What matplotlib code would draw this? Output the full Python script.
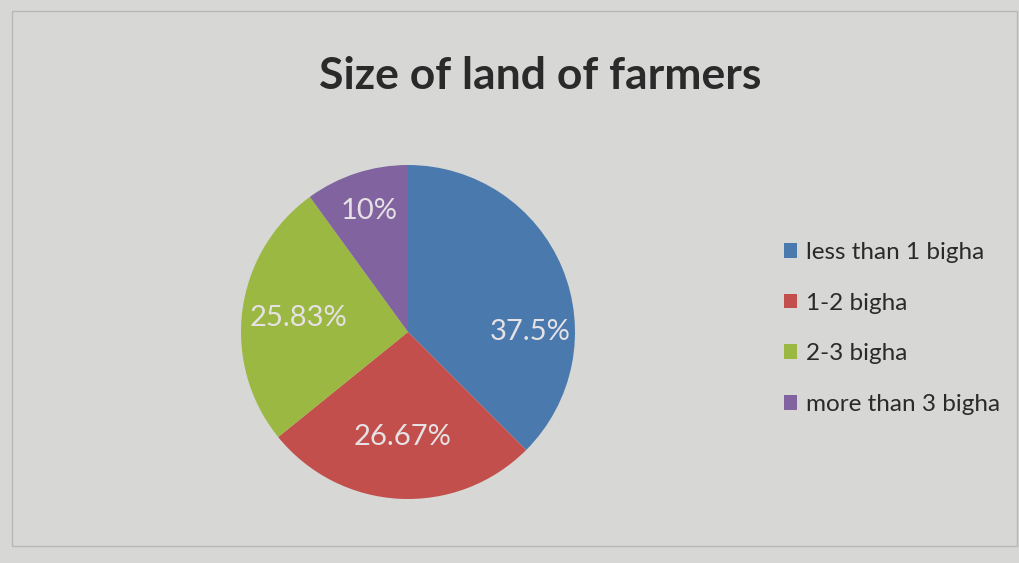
#!/usr/bin/env python3

import math
import matplotlib.pyplot as plt
import matplotlib.patches as mpatches

#-----------------------------------------------------------------------------#
# data

categories = ['less than 1 bigha', '1-2 bigha', '2-3 bigha', 'more than 3 bigha']
shares = [37.5, 26.67, 25.83, 10.0]
pct_labels = ['37.5%', '26.67%', '25.83%', '10%']

#-----------------------------------------------------------------------------#
# style

colors = ['#4a79ae', '#c24f4b', '#9bb842', '#8163a0']
bg = '#d7d8d6'
font = ['Lato', 'DejaVu Sans']
# label placement (radius fraction, angle override in degrees or None)
label_pos = [(0.73, 0.0), (0.63, None), (0.66, None), (0.76, None)]

#-----------------------------------------------------------------------------#
# plot

plt.rcParams['font.family'] = font

fig = plt.figure(figsize=(10.2, 5.63), dpi=100, facecolor=bg)

# chart area frame
fig.patches.append(mpatches.Rectangle((0.012, 0.03), 0.985, 0.95, transform=fig.transFigure,
                                      fill=False, edgecolor='#b8b9b7', linewidth=1.0))

W, H = 1020.0, 563.0
cx, cy, r = 408.0, 332.0, 167.0
ax = fig.add_axes([(cx - r) / W, (H - cy - r) / H, 2 * r / W, 2 * r / H])
ax.set_facecolor(bg)

wedges, _ = ax.pie(shares, colors=colors, startangle=90, counterclock=False,
                   radius=1.0, wedgeprops={'linewidth': 0})

for w, lab, (rf, ang) in zip(wedges, pct_labels, label_pos):
    a = ang if ang is not None else (w.theta1 + w.theta2) / 2.0
    x = rf * math.cos(math.radians(a))
    y = rf * math.sin(math.radians(a))
    ax.text(x, y, lab, ha='center', va='center', color='#e6e1e4', fontsize=21)

ax.set_xlim(-1, 1)
ax.set_ylim(-1, 1)
ax.set_aspect('equal')
ax.axis('off')

fig.text(540 / W, 1 - 76 / H, 'Size of land of farmers', ha='center', va='center',
         fontsize=32, fontweight='bold', color='#2a2a2a')

handles = [mpatches.Patch(facecolor=c, edgecolor='none') for c in colors]
fig.legend(handles, categories, loc='upper left', bbox_to_anchor=(762 / W, 1 - 220 / H),
           frameon=False, fontsize=17.5, handlelength=0.55, handleheight=0.55,
           handletextpad=0.35, labelspacing=1.22, labelcolor='#2a2a2a')

plt.savefig('out.png', dpi=100, facecolor=bg)
